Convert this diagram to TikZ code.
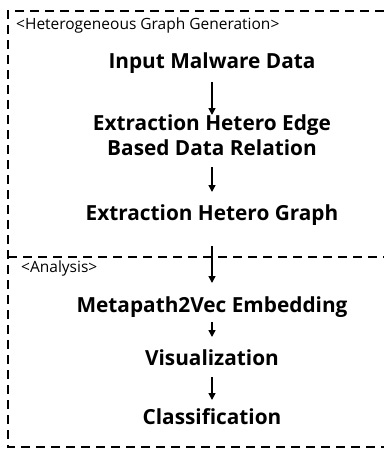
\documentclass[tikz,border=0pt]{standalone}
\usepackage{fontspec}
\setmainfont{Open Sans}
\usetikzlibrary{arrows.meta}
\begin{document}
\begin{tikzpicture}[x=1pt,y=1pt,
  stage/.style={inner sep=0pt, anchor=base, font=\fontsize{20.8}{25}\selectfont\bfseries, align=center},
  tag/.style={inner sep=0pt, anchor=base west, font=\fontsize{15.5}{18}\selectfont},
  arr/.style={line width=1.4pt, -{Triangle[length=7pt,width=7pt]}},
  frame/.style={line width=1.4pt, dash pattern=on 9pt off 6pt}]
\useasboundingbox (0,0) rectangle (384,-451);
% frame
\draw[frame] (384,-11) -- (8,-11) -- (8,-447) -- (384,-447);
\draw[frame] (8,-257) -- (384,-257);
% labels
\node[tag] (t1) at (16,-29) {<Heterogeneous Graph Generation>};
\node[tag] (t2) at (21,-272) {<Analysis>};
% stages
\node[stage] (a) at (212,-68) {Input Malware Data};
\node[stage] (b1) at (212,-130) {Extraction Hetero Edge};
\node[stage] (b2) at (212,-155) {Based Data Relation};
\node[stage] (c) at (212,-220) {Extraction Hetero Graph};
\node[stage] (d) at (212,-312) {Metapath2Vec Embedding};
\node[stage] (e) at (212,-365) {Visualization};
\node[stage] (f) at (212,-424) {Classification};
% arrows
\draw[arr] ([yshift=-14pt]a.base) -- ([yshift=15pt]b1.base);
\draw[arr] ([yshift=-12pt]b2.base) -- ([yshift=28pt]c.base);
\draw[arr] ([yshift=-26pt]c.base) -- ([yshift=29pt]d.base);
\draw[arr] ([yshift=-10pt]d.base) -- ([yshift=28pt]e.base);
\draw[arr] ([yshift=-12pt]e.base) -- ([yshift=24pt]f.base);
\end{tikzpicture}
\end{document}
